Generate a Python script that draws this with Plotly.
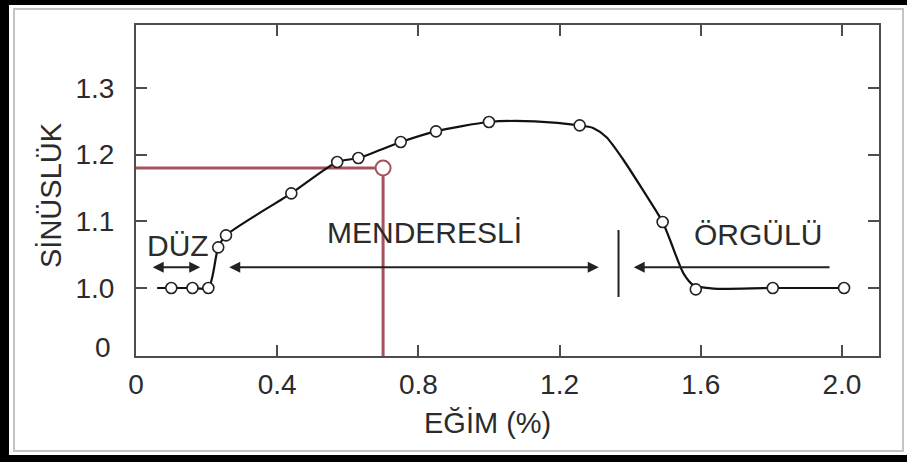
import plotly.graph_objects as go

# Measured points: channel slope (%) vs. sinuosity
slope = [0.10, 0.16, 0.205, 0.233, 0.255, 0.44, 0.57, 0.63, 0.75, 0.85, 1.00, 1.257, 1.492, 1.586, 1.804, 2.006]
sinuosity = [1.0, 1.0, 1.0, 1.061, 1.079, 1.142, 1.189, 1.195, 1.219, 1.235, 1.249, 1.244, 1.099, 0.998, 1.0, 1.0]

# Hand-drawn trend curve knots
curve_x = [0.06, 0.10, 0.16, 0.205, 0.233, 0.255, 0.44, 0.57, 0.63, 0.75, 0.85, 1.00, 1.13, 1.257,
           1.295, 1.333, 1.381, 1.43, 1.492, 1.513, 1.551, 1.58, 1.637, 1.80, 2.006]
curve_y = [1.0, 1.0, 1.0, 1.0, 1.061, 1.079, 1.142, 1.189, 1.195, 1.219, 1.235, 1.249, 1.25, 1.244,
           1.240, 1.226, 1.192, 1.152, 1.099, 1.072, 1.022, 1.004, 0.999, 1.0, 1.0]

# Highlighted reading
sel_slope = 0.70
sel_sinuosity = 1.18

x_ticks = [0.0, 0.4, 0.8, 1.2, 1.6, 2.0]
x_ticktext = ["0", "0.4", "0.8", "1.2", "1.6", "2.0"]
y_ticks = [1.0, 1.1, 1.2, 1.3]
y_ticktext = ["1.0", "1.1", "1.2", "1.3"]

X_RANGE = [0, 2.105]
Y_RANGE = [0.898, 1.3945]

FONT = "Liberation Sans, Arial, sans-serif"
TXT = "#2b2b2b"
AXC = "#4d4d4d"
RED = "#a5525c"

# plot-area pixel box used to place frame decorations
L, R, T, B = 136, 879, 25, 356
W, H = 907, 462


def fx(px):
    return (px - L) / (R - L)


def fy(py):
    return (B - py) / (B - T)


fig = go.Figure()

# Reading lines
fig.add_trace(go.Scatter(
    x=[X_RANGE[0], sel_slope, sel_slope], y=[sel_sinuosity, sel_sinuosity, Y_RANGE[0]],
    mode="lines", line=dict(color=RED, width=3), hoverinfo="skip", showlegend=False))

# Trend curve
fig.add_trace(go.Scatter(
    x=curve_x, y=curve_y, mode="lines",
    line=dict(color="#111111", width=2.2, shape="spline", smoothing=0.7),
    hoverinfo="skip", showlegend=False))

# Observations
fig.add_trace(go.Scatter(
    x=slope, y=sinuosity, mode="markers",
    marker=dict(size=11, color="white", line=dict(color="#222222", width=1.6)),
    showlegend=False))

fig.add_trace(go.Scatter(
    x=[sel_slope], y=[sel_sinuosity], mode="markers",
    marker=dict(size=15, color="white", line=dict(color=RED, width=2)),
    showlegend=False))

# Regime divider
fig.add_trace(go.Scatter(
    x=[1.367, 1.367], y=[1.087, 0.9865], mode="lines",
    line=dict(color="#222222", width=2), hoverinfo="skip", showlegend=False))

annotations = []

# Regime arrows
ARROW_Y = 1.031
for x_tail, x_head, both in [(0.043, 0.182, True), (0.260, 1.311, True), (1.969, 1.410, False)]:
    annotations.append(dict(
        x=x_head, y=ARROW_Y, ax=x_tail, ay=ARROW_Y, xref="x", yref="y", axref="x", ayref="y",
        text="", showarrow=True, arrowhead=2, startarrowhead=2, arrowsize=1.1, startarrowsize=1.1,
        arrowwidth=2, arrowcolor="#222222", arrowside="end+start" if both else "end"))

# Regime labels
for txt, xv, yv in [("DÜZ", 0.119, 1.064), ("MENDERESLİ", 0.818, 1.083), ("ÖRGÜLÜ", 1.762, 1.081)]:
    annotations.append(dict(x=xv, y=yv, xref="x", yref="y", text=txt, showarrow=False,
                            font=dict(family=FONT, size=30, color=TXT), xanchor="center", yanchor="middle"))

# Broken-axis origin label
annotations.append(dict(x=fx(103), y=fy(347), xref="paper", yref="paper", text="0", showarrow=False,
                        font=dict(family=FONT, size=28, color=TXT), xanchor="center", yanchor="middle"))

# Axis titles
annotations.append(dict(x=fx(487), y=fy(423), xref="paper", yref="paper", text="EĞİM (%)", showarrow=False,
                        font=dict(family=FONT, size=29, color=TXT), xanchor="center", yanchor="middle"))
annotations.append(dict(x=fx(51), y=fy(195), xref="paper", yref="paper", text="SİNÜSLÜK", showarrow=False,
                        textangle=-90, font=dict(family=FONT, size=29, color=TXT),
                        xanchor="center", yanchor="middle"))

# Window frame
shapes = [
    dict(type="rect", xref="paper", yref="paper", x0=fx(-5), x1=fx(W + 5), y0=fy(5), y1=fy(-5),
         fillcolor="black", line=dict(width=0), layer="above"),
    dict(type="rect", xref="paper", yref="paper", x0=fx(-5), x1=fx(9), y0=fy(H + 5), y1=fy(-5),
         fillcolor="black", line=dict(width=0), layer="above"),
    dict(type="rect", xref="paper", yref="paper", x0=fx(-5), x1=fx(W + 5), y0=fy(H + 5), y1=fy(455),
         fillcolor="black", line=dict(width=0), layer="above"),
    dict(type="rect", xref="paper", yref="paper", x0=fx(14), x1=fx(903), y0=fy(451), y1=fy(9),
         fillcolor="rgba(0,0,0,0)", line=dict(color="#c4c4c4", width=2), layer="above"),
]

axis_common = dict(showgrid=False, zeroline=False, showline=True, linecolor=AXC, linewidth=2,
                   mirror="ticks", ticks="inside", ticklen=11, tickwidth=2, tickcolor=AXC,
                   tickfont=dict(family=FONT, size=28, color=TXT))

fig.update_layout(
    width=W, height=H,
    margin=dict(l=L, r=W - R, t=T, b=H - B),
    paper_bgcolor="white", plot_bgcolor="white",
    xaxis=dict(range=X_RANGE, tickvals=x_ticks, ticktext=x_ticktext, ticklabelstandoff=2, **axis_common),
    yaxis=dict(range=Y_RANGE, tickvals=y_ticks, ticktext=y_ticktext, ticklabelstandoff=14, **axis_common),
    annotations=annotations,
    shapes=shapes,
    showlegend=False,
)

fig.write_html("out.html")
